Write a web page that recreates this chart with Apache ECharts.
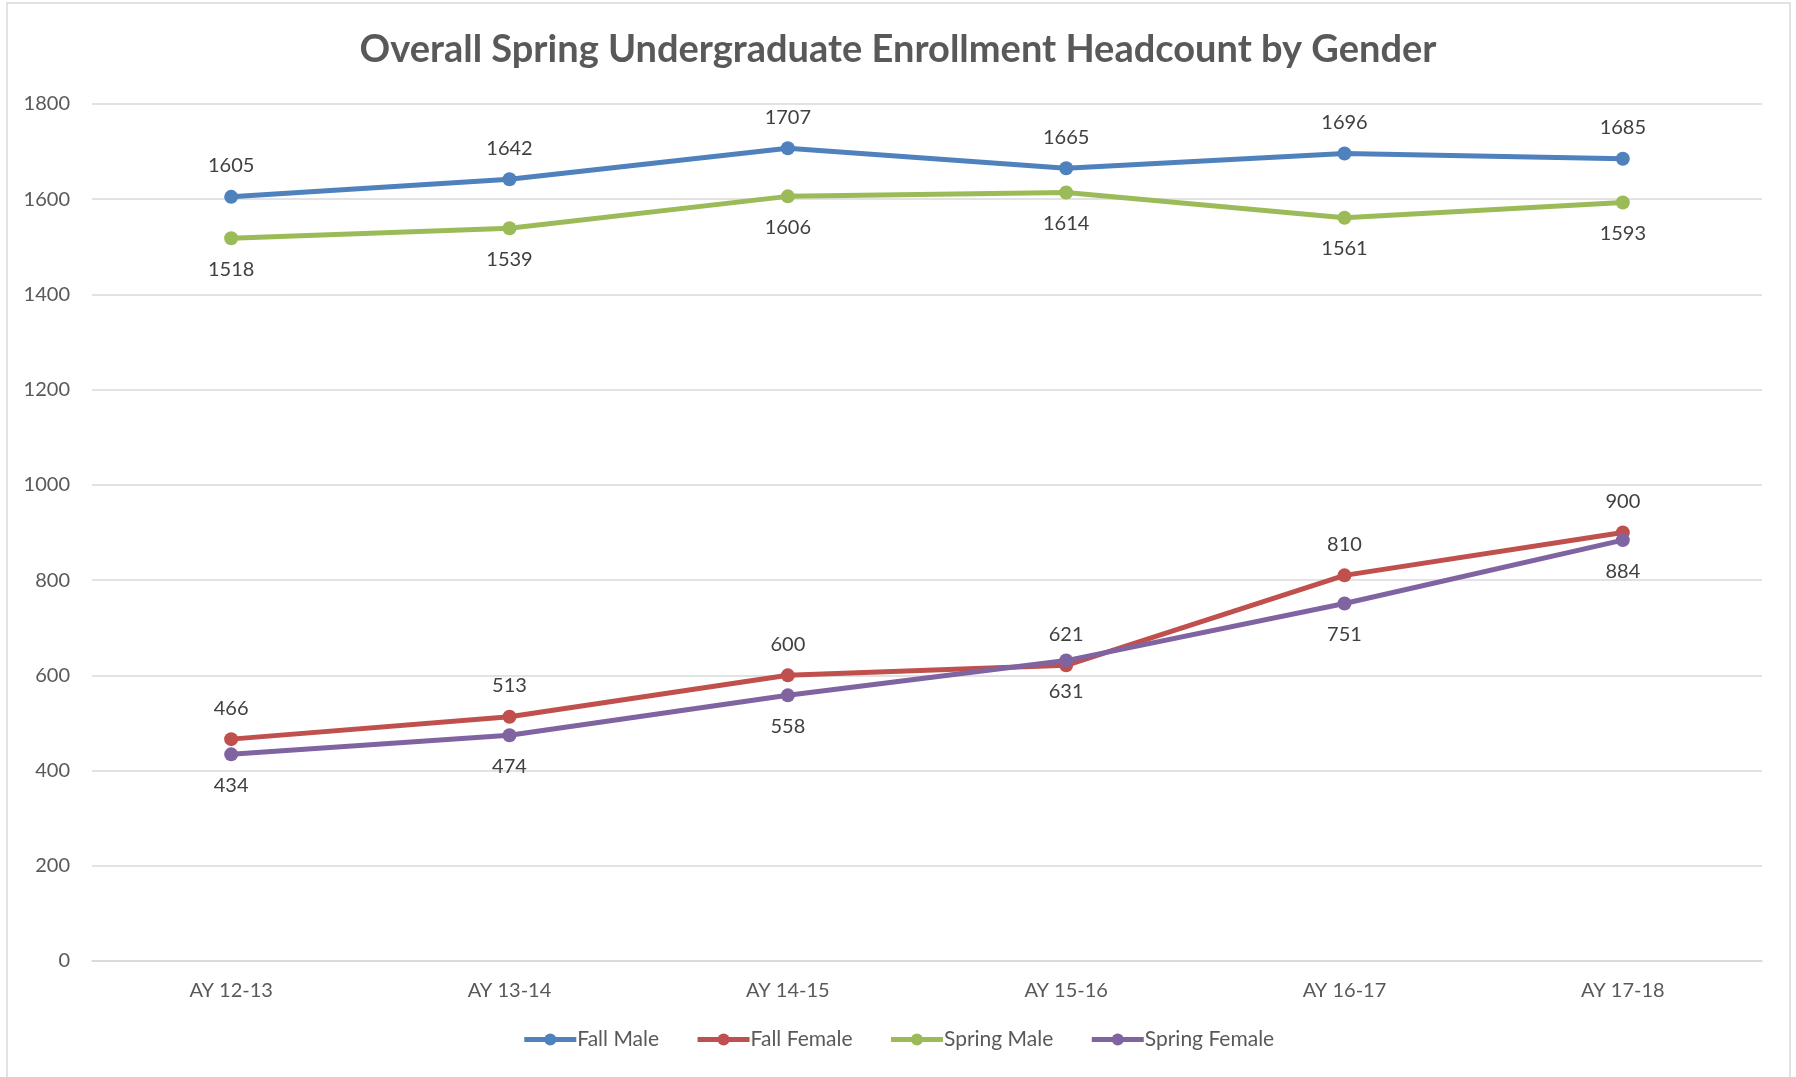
<!DOCTYPE html>
<html>
<head>
<meta charset="utf-8">
<script src="https://cdn.jsdelivr.net/npm/echarts@6/dist/echarts.min.js"></script>
<style>
html,body{margin:0;padding:0;background:#fff;}
#c{width:1796px;height:1077px;}
</style>
</head>
<body>
<div id="c"></div>
<script>
const categories = ['AY 12-13','AY 13-14','AY 14-15','AY 15-16','AY 16-17','AY 17-18'];
const fallMale = [1605,1642,1707,1665,1696,1685];
const fallFemale = [466,513,600,621,810,900];
const springMale = [1518,1539,1606,1614,1561,1593];
const springFemale = [434,474,558,631,751,884];
const seriesNames = ['Fall Male','Fall Female','Spring Male','Spring Female'];
const yTicks = {min:0, max:1800, interval:200};

const FONT = 'Lato, "Open Sans", sans-serif';
const chart = echarts.init(document.getElementById('c'));
function mk(name, data, color, pos){
  return {
    name, type:'line', data,
    symbol:'circle', symbolSize:14,
    lineStyle:{width:5,color},
    itemStyle:{color},
    label:{show:true, position:pos, distance:14, fontSize:20, color:'#404040', fontFamily:FONT},
    z: 3
  };
}
chart.setOption({
  backgroundColor:'#fff',
  animation:false,
  title:{
    text:'Overall Spring Undergraduate Enrollment Headcount by Gender',
    left:'center', top:26,
    textStyle:{fontSize:38, fontWeight:'bold', color:'#595959', fontFamily:FONT}
  },
  graphic:[{type:'rect', shape:{x:7,y:3,width:1783,height:1080}, style:{fill:null, stroke:'#d9d9d9', lineWidth:1.5}, silent:true}],
  grid:{left:92, right:34, top:104, bottom:116, containLabel:false},
  legend:{
    bottom:22, left:'center', itemWidth:52, itemHeight:15, itemGap:36,
    lineStyle:{width:5},
    textStyle:{fontSize:21, color:'#595959', fontFamily:FONT, padding:[0,0,0,-4]},
    data: seriesNames
  },
  xAxis:{
    type:'category', data:categories, boundaryGap:true,
    axisLine:{show:true, lineStyle:{color:'#d9d9d9', width:1.5}},
    axisTick:{show:false},
    axisLabel:{fontSize:20, color:'#595959', margin:20, fontFamily:FONT}
  },
  yAxis:{
    type:'value', min:yTicks.min, max:yTicks.max, interval:yTicks.interval,
    axisLine:{show:false}, axisTick:{show:false},
    splitLine:{lineStyle:{color:'#d9d9d9', width:1.5}},
    axisLabel:{fontSize:20, color:'#595959', margin:22, fontFamily:FONT, formatter:v=>String(v)}
  },
  series:[
    mk(seriesNames[0], fallMale, '#4f81bd', 'top'),
    mk(seriesNames[1], fallFemale, '#c0504d', 'top'),
    mk(seriesNames[2], springMale, '#9bbb59', 'bottom'),
    mk(seriesNames[3], springFemale, '#8064a2', 'bottom')
  ]
});
</script>
</body>
</html>
